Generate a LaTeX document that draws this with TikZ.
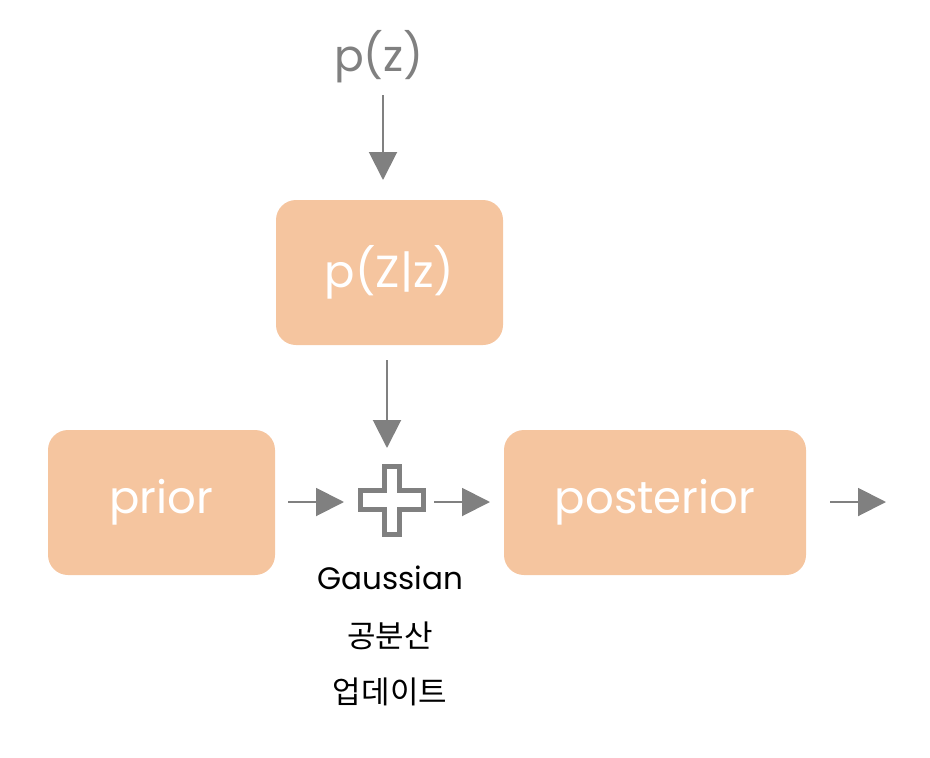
\documentclass[tikz,border=0pt]{standalone}
\usepackage{fontspec}
\setmainfont{Poppins}
\newfontfamily\krfont{Noto Sans CJK KR}
\usetikzlibrary{arrows.meta,calc}
\definecolor{boxfill}{HTML}{F5C59F}
\definecolor{arrgray}{HTML}{808080}
\begin{document}
\begin{tikzpicture}[x=1pt,y=-1pt,
  box/.style={fill=boxfill, rounded corners=20pt, text=white, font=\fontsize{45}{50}\selectfont, inner sep=0pt},
  conn/.style={draw=arrgray, line width=2pt, -{Triangle[length=28pt,width=28pt]}},
  captext/.style={font=\fontsize{31}{36}\selectfont, text=black}]
\useasboundingbox (0,0) rectangle (930,758);
\node[box, minimum width=227pt, minimum height=145pt] (pZz) at (389.5,272.5) {p(Z|z)};
\node[box, minimum width=227pt, minimum height=145pt] (prior) at (161.5,502.5) {prior};
\node[box, minimum width=302pt, minimum height=145pt] (post) at (655,502.5) {posterior};
\node[text=arrgray, font=\fontsize{44}{48}\selectfont, inner sep=0pt] (pz) at (379,57) {p(z)};
\coordinate (plus) at (391.5,500.5);
\draw[draw=arrgray, line width=5pt]
  ($(plus)+(-7.5,-34)$) -- ++(15,0) -- ++(0,24) -- ++(24,0) -- ++(0,19) -- ++(-24,0) -- ++(0,25) -- ++(-15,0) -- ++(0,-25) -- ++(-24,0) -- ++(0,-19) -- ++(24,0) -- cycle;
\coordinate (a1s) at (383,95);
\coordinate (a1e) at (383,180);
\coordinate (a2s) at (387,360);
\coordinate (a2e) at (387,448);
\coordinate (a3s) at (288,502);
\coordinate (a3e) at (344,502);
\coordinate (a4s) at (434,502);
\coordinate (a4e) at (490,502);
\coordinate (a5s) at (830,502);
\coordinate (a5e) at (886,502);
\draw[conn] (a1s) -- (a1e);
\draw[conn] (a2s) -- (a2e);
\draw[conn] (a3s) -- (a3e);
\draw[conn] (a4s) -- (a4e);
\draw[conn] (a5s) -- (a5e);
\node[captext] (g) at (390,578) {Gaussian};
\node[captext, font=\krfont\fontsize{31}{36}\selectfont] (k1) at (390,636) {공분산};
\node[captext, font=\krfont\fontsize{31}{36}\selectfont] (k2) at (390,692) {업데이트};
\end{tikzpicture}
\end{document}
